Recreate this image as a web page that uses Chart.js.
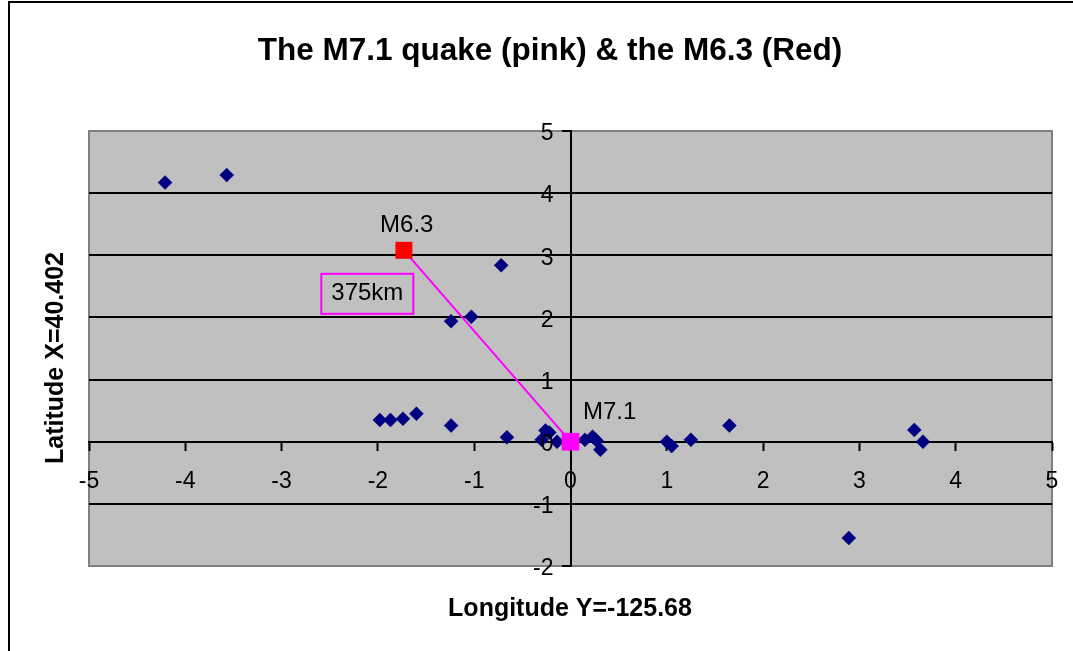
<!DOCTYPE html>
<html>
<head>
<meta charset="utf-8">
<script src="https://cdn.jsdelivr.net/npm/chart.js@4/dist/chart.umd.min.js"></script>
<style>
html,body{margin:0;padding:0;background:#fff;overflow:hidden}
#wrap{width:1073px;height:651px;position:relative}
</style>
</head>
<body>
<div id="wrap"><canvas id="c" width="1073" height="651"></canvas></div>
<script>
// ---- texts ----
const chartTitle = "The M7.1 quake (pink) & the M6.3 (Red)";
const xAxisTitle = "Longitude Y=-125.68";
const yAxisTitle = "Latitude X=40.402";

// ---- axis ranges / ticks ----
const xTickValues = [-5, -4, -3, -2, -1, 0, 1, 2, 3, 4, 5];
const yTickValues = [-2, -1, 0, 1, 2, 3, 4, 5];

// ---- aftershocks (relative longitude / latitude) ----
const quakeX = [-4.21, -3.57, -0.72, -1.24, -1.03,
                -1.98, -1.87, -1.74, -1.60, -1.24,
                -0.66, -0.30, -0.26, -0.22, -0.14,
                 0.15,  0.23,  0.27,  0.31,
                 1.00,  1.05,  1.25,  1.65,  3.57,  3.66,  2.89];
const quakeY = [ 4.17,  4.29,  2.84,  1.94,  2.01,
                 0.35,  0.35,  0.37,  0.45,  0.26,
                 0.07,  0.03,  0.18,  0.15,  0.00,
                 0.03,  0.08,  0.02, -0.13,
                 0.00, -0.07,  0.03,  0.26,  0.19,  0.00, -1.55];

// ---- main shocks ----
const m71X = [0];
const m71Y = [0];
const m63X = [-1.73];
const m63Y = [3.08];

// ---- annotation texts and anchors (data coords) ----
const noteTexts = ["M6.3", "M7.1", "375km"];
const noteX = [-1.70, 0.13, -2.11];
const noteY = [3.48, 0.48, 2.38];

const FONT = '"Liberation Sans", Arial, Helvetica, sans-serif';

const toPts = (xs, ys) => xs.map((x, i) => ({x: x, y: ys[i]}));

const decor = {
  id: 'decor',
  beforeDraw(chart) {
    const ctx = chart.ctx, a = chart.chartArea;
    ctx.save();
    ctx.fillStyle = '#ffffff';
    ctx.fillRect(0, 0, chart.width, chart.height);
    ctx.strokeStyle = '#000000';
    ctx.lineWidth = 2;
    ctx.strokeRect(9, 2, chart.width + 20, chart.height + 20);
    ctx.fillStyle = '#c0c0c0';
    ctx.fillRect(a.left, a.top, a.right - a.left, a.bottom - a.top);
    ctx.strokeStyle = '#808080';
    ctx.lineWidth = 2;
    ctx.strokeRect(a.left, a.top, a.right - a.left, a.bottom - a.top);
    ctx.restore();
  },
  afterDraw(chart) {
    const ctx = chart.ctx;
    const sx = chart.scales.x, sy = chart.scales.y;
    ctx.save();
    ctx.fillStyle = '#000';

    // tick labels next to the crossing axes
    ctx.font = '23px ' + FONT;
    ctx.textBaseline = 'middle';
    const axisX = sx.getPixelForValue(0);
    const axisY = sy.getPixelForValue(0);
    ctx.textAlign = 'right';
    yTickValues.forEach(v => {
      ctx.fillText(String(v), axisX - 17, sy.getPixelForValue(v) + 3);
    });
    ctx.textAlign = 'center';
    xTickValues.forEach(v => {
      ctx.fillText(String(v), sx.getPixelForValue(v), axisY + 40);
    });

    ctx.font = 'bold 31.5px ' + FONT;
    ctx.fillText(chartTitle, 550, 51);
    ctx.font = 'bold 25px ' + FONT;
    ctx.fillText(xAxisTitle, 570, 609);
    ctx.save();
    ctx.translate(56, 358);
    ctx.rotate(-Math.PI / 2);
    ctx.fillText(yAxisTitle, 0, 0);
    ctx.restore();

    ctx.font = '24px ' + FONT;
    ctx.fillText(noteTexts[0], sx.getPixelForValue(noteX[0]), sy.getPixelForValue(noteY[0]));
    ctx.textAlign = 'left';
    ctx.fillText(noteTexts[1], sx.getPixelForValue(noteX[1]), sy.getPixelForValue(noteY[1]));
    ctx.textAlign = 'center';
    const cx = sx.getPixelForValue(noteX[2]), cy = sy.getPixelForValue(noteY[2]);
    ctx.fillText(noteTexts[2], cx, cy);
    ctx.strokeStyle = '#ff00ff';
    ctx.lineWidth = 2;
    ctx.strokeRect(cx - 46, cy - 20, 92, 40);
    ctx.restore();
  }
};

new Chart(document.getElementById('c'), {
  type: 'scatter',
  data: {
    datasets: [
      {
        label: 'M7.1',
        data: toPts(m71X, m71Y),
        pointStyle: 'rect',
        pointRadius: 12.5,
        backgroundColor: '#ff00ff',
        borderColor: '#ff00ff',
        borderWidth: 0
      },
      {
        label: 'M6.3',
        data: toPts(m63X, m63Y),
        pointStyle: 'rect',
        pointRadius: 12,
        backgroundColor: '#ff0000',
        borderColor: '#ff0000',
        borderWidth: 0
      },
      {
        label: 'distance',
        data: toPts(m63X.concat(m71X), m63Y.concat(m71Y)),
        showLine: true,
        borderColor: '#ff00ff',
        borderWidth: 2,
        pointRadius: 0
      },
      {
        label: 'aftershocks',
        data: toPts(quakeX, quakeY),
        pointStyle: 'rectRot',
        pointRadius: 7,
        backgroundColor: '#000080',
        borderColor: '#000080',
        borderWidth: 0.5
      }
    ]
  },
  options: {
    responsive: false,
    animation: false,
    devicePixelRatio: 1,
    layout: { padding: { left: 89, right: 21, top: 131, bottom: 85 } },
    plugins: {
      legend: { display: false },
      tooltip: { enabled: false },
      title: { display: false }
    },
    scales: {
      x: {
        type: 'linear',
        min: xTickValues[0],
        max: xTickValues[xTickValues.length - 1],
        position: { y: 0 },
        afterBuildTicks: (s) => { s.ticks = xTickValues.map(v => ({value: v})); },
        afterFit: (s) => { s.height = 0; },
        grid: { display: true, drawOnChartArea: false, drawTicks: true, tickLength: 8, tickColor: '#000', tickWidth: 2 },
        border: { display: true, color: '#000', width: 2 },
        ticks: { display: false }
      },
      y: {
        type: 'linear',
        min: yTickValues[0],
        max: yTickValues[yTickValues.length - 1],
        position: { x: 0 },
        afterBuildTicks: (s) => { s.ticks = yTickValues.map(v => ({value: v})); },
        afterFit: (s) => { s.width = 0; },
        grid: {
          display: true,
          drawOnChartArea: true,
          drawTicks: true,
          tickLength: 8,
          tickColor: '#000',
          tickWidth: 2,
          lineWidth: 2,
          color: (c) => (c.tick && (c.tick.value === yTickValues[0] || c.tick.value === yTickValues[yTickValues.length - 1])) ? 'rgba(0,0,0,0)' : '#000'
        },
        border: { display: true, color: '#000', width: 2 },
        ticks: { display: false }
      }
    }
  },
  plugins: [decor]
});
</script>
</body>
</html>
